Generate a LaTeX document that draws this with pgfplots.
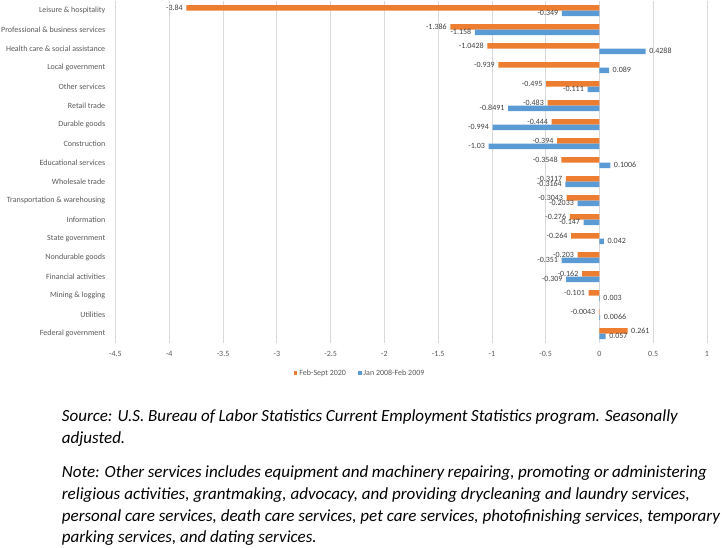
\documentclass[border=0pt]{standalone}
\usepackage{pgfplots}
\pgfplotsset{compat=1.18}
\usepackage{pgfplotstable}
\usepackage{fontspec}
\setmainfont{Carlito}
\definecolor{exorange}{HTML}{ED7D31}
\definecolor{exblue}{HTML}{5B9BD5}
\definecolor{gridgray}{HTML}{D9D9D9}
\definecolor{labgray}{HTML}{595959}
\definecolor{datgray}{HTML}{404040}

\pgfplotstableread[col sep=comma]{
idx,val,lab
0,-3.84,-3.84
1,-1.386,-1.386
2,-1.0428,-1.0428
3,-0.939,-0.939
4,-0.495,-0.495
5,-0.483,-0.483
6,-0.444,-0.444
7,-0.394,-0.394
8,-0.3548,-0.3548
9,-0.3117,-0.3117
10,-0.3043,-0.3043
11,-0.276,-0.276
12,-0.264,-0.264
13,-0.203,-0.203
14,-0.162,-0.162
15,-0.101,-0.101
16,-0.0043,-0.0043
17,0.261,0.261
}\dataA

\pgfplotstableread[col sep=comma]{
idx,val,lab
0,-0.349,-0.349
1,-1.158,-1.158
2,0.4288,0.4288
3,0.089,0.089
4,-0.111,-0.111
5,-0.8491,-0.8491
6,-0.994,-0.994
7,-1.03,-1.03
8,0.1006,0.1006
9,-0.3164,-0.3164
10,-0.2033,-0.2033
11,-0.147,-0.147
12,0.042,0.042
13,-0.351,-0.351
14,-0.309,-0.309
15,0.003,0.003
16,0.0066,0.0066
17,0.057,0.057
}\dataB

\newcommand{\smallfont}{\fontsize{8bp}{9.6bp}\selectfont}
\newcommand{\bigfont}{\fontsize{17bp}{20bp}\selectfont\itshape}

\begin{document}
\begin{tikzpicture}
\path[use as bounding box] (0,0) rectangle (722bp,-548bp);
\begin{axis}[
  at={(115.5bp,-343bp)}, anchor=south west,
  scale only axis, width=591.5bp, height=342bp,
  xbar, bar width=5.5bp,
  xmin=-4.5, xmax=1,
  xtick={-4.5,-4,-3.5,-3,-2.5,-2,-1.5,-1,-0.5,0,0.5,1},
  xticklabels={-4.5,-4,-3.5,-3,-2.5,-2,-1.5,-1,-0.5,0,0.5,1},
  ymin=-0.5, ymax=17.5, y dir=reverse,
  ytick={0,...,17},
  yticklabels={Leisure \& hospitality, Professional \& business services, Health care \& social assistance, Local government, Other services, Retail trade, Durable goods, Construction, Educational services, Wholesale trade, Transportation \& warehousing, Information, State government, Nondurable goods, Financial activities, Mining \& logging, Utilities, Federal government},
  axis line style={draw=none},
  tick style={draw=none},
  xmajorgrids, major grid style={gridgray, line width=0.8bp},
  xticklabel style={font=\smallfont, text=labgray, anchor=north, yshift=-5bp},
  yticklabel style={font=\smallfont, text=labgray, anchor=east, xshift=-2.5bp},
  clip=false,
  nodes near coords,
  point meta=explicit symbolic,
  visualization depends on={rawx \as \rawval},
  nodes near coords style={font=\smallfont, text=datgray, inner xsep=3.5bp, inner ysep=1bp,
    /utils/exec={\pgfmathparse{\rawval<0}\ifdim\pgfmathresult pt>0.5pt \gdef\myanc{east}\else\gdef\myanc{west}\fi},
    anchor=\myanc},
  legend style={at={(0.4135,-0.0877)}, anchor=center, draw=none, fill=none,
    legend columns=2, font=\smallfont, text=labgray,
    /tikz/every even column/.append style={column sep=10bp}},
  legend image code/.code={\fill[#1] (0bp,-1.8bp) rectangle (3.6bp,1.8bp);},
]
\addplot[fill=exorange, draw=none, bar shift=2.75bp] table[x=val, y=idx, meta=lab] {\dataA};
\addlegendentry{Feb-Sept 2020}
\addplot[fill=exblue, draw=none, bar shift=-2.75bp] table[x=val, y=idx, meta=lab] {\dataB};
\addlegendentry{Jan 2008-Feb 2009}
\end{axis}
\node[anchor=base west, inner sep=0, font=\bigfont] at (61.7bp,-421.5bp) {\makebox[616bp][s]{Source: U.S. Bureau of Labor Statistics Current Employment Statistics program. Seasonally}};
\node[anchor=base west, inner sep=0, font=\bigfont] at (61.7bp,-443bp) {adjusted.};
\node[anchor=base west, inner sep=0, font=\bigfont] at (61.7bp,-477.5bp) {\makebox[645bp][s]{Note: Other services includes equipment and machinery repairing, promoting or administering}};
\node[anchor=base west, inner sep=0, font=\bigfont] at (61.7bp,-499bp) {\makebox[628bp][s]{religious activities, grantmaking, advocacy, and providing drycleaning and laundry services,}};
\node[anchor=base west, inner sep=0, font=\bigfont] at (61.7bp,-521bp) {\makebox[658bp][s]{personal care services, death care services, pet care services, photofinishing services, temporary}};
\node[anchor=base west, inner sep=0, font=\bigfont] at (61.7bp,-542.5bp) {parking services, and dating services.};
\end{tikzpicture}
\end{document}
